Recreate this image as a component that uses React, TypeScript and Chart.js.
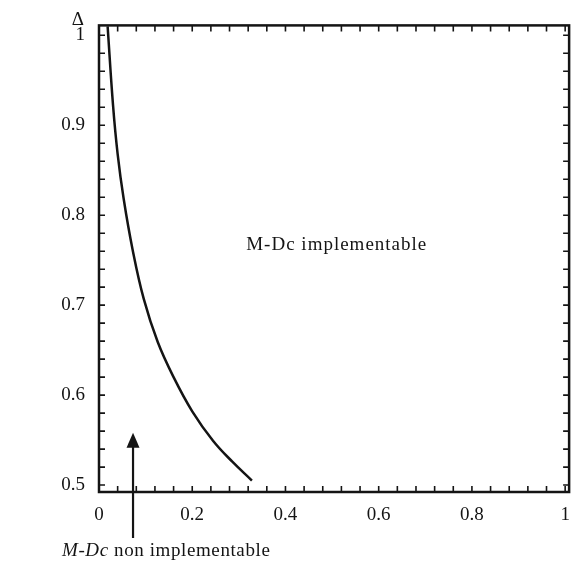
import { useEffect, useRef } from "react";
import { Chart, registerables } from "chart.js";

Chart.register(...registerables);

// Boundary curve
const curveX = [0.0185, 0.030, 0.040, 0.053, 0.072, 0.096, 0.126, 0.160, 0.200, 0.245, 0.286, 0.328];
const curveY = [1.010, 0.923, 0.868, 0.818, 0.762, 0.707, 0.659, 0.620, 0.582, 0.549, 0.526, 0.505];

const xTickLabels = [0, 0.2, 0.4, 0.6, 0.8, 1];
const yTickLabels = [0.5, 0.6, 0.7, 0.8, 0.9, 1];
const xMinorStep = 0.04;
const yMinorStep = 0.02;

const yAxisSymbol = "Δ";
const regionLabel = "M-Dc implementable";
const regionLabelPos = [0.51, 0.767];
const arrowLabelItalic = "M-Dc";
const arrowLabelRest = " non implementable";
const arrowX = 0.073;
const arrowTipY = 0.557;

const INK = "#141414";
const FONT = "'Liberation Serif', 'DejaVu Serif', serif";

const decorPlugin = {
  id: "decor",
  afterDraw(chart: any) {
    const { ctx, chartArea: a, scales } = chart;
    const xs = scales.x;
    const ys = scales.y;
    ctx.save();
    ctx.strokeStyle = INK;
    ctx.fillStyle = INK;

    // minor ticks, inside, on all four sides
    ctx.lineWidth = 1.6;
    const tl = 6;
    for (let k = 0; ; k++) {
      const v = k * xMinorStep;
      if (v > 1 + 1e-9) break;
      const px = xs.getPixelForValue(v);
      ctx.beginPath();
      ctx.moveTo(px, a.bottom);
      ctx.lineTo(px, a.bottom - tl);
      ctx.moveTo(px, a.top);
      ctx.lineTo(px, a.top + tl);
      ctx.stroke();
    }
    for (let k = 0; ; k++) {
      const v = 0.5 + k * yMinorStep;
      if (v > 1 + 1e-9) break;
      const py = ys.getPixelForValue(v);
      ctx.beginPath();
      ctx.moveTo(a.left, py);
      ctx.lineTo(a.left + tl, py);
      ctx.moveTo(a.right, py);
      ctx.lineTo(a.right - tl, py);
      ctx.stroke();
    }

    // frame
    ctx.lineWidth = 2.5;
    ctx.strokeRect(a.left, a.top, a.right - a.left, a.bottom - a.top);

    // axis symbol
    ctx.font = `19px ${FONT}`;
    ctx.textAlign = "right";
    ctx.textBaseline = "middle";
    ctx.fillText(yAxisSymbol, a.left - 15, a.top - 5);

    // region label
    ctx.textAlign = "center";
    (ctx as any).letterSpacing = "1px";
    ctx.fillText(
      regionLabel,
      xs.getPixelForValue(regionLabelPos[0]),
      ys.getPixelForValue(regionLabelPos[1])
    );

    // arrow
    const ax = xs.getPixelForValue(arrowX);
    const tip = ys.getPixelForValue(arrowTipY);
    const base = a.bottom + 46;
    ctx.lineWidth = 2.2;
    ctx.beginPath();
    ctx.moveTo(ax, base);
    ctx.lineTo(ax, tip + 12);
    ctx.stroke();
    ctx.beginPath();
    ctx.moveTo(ax, tip - 1);
    ctx.lineTo(ax - 6.5, tip + 14);
    ctx.lineTo(ax + 6.5, tip + 14);
    ctx.closePath();
    ctx.fill();

    // arrow label
    ctx.textAlign = "left";
    (ctx as any).letterSpacing = "0.6px";
    const ly = a.bottom + 59;
    let lx = a.left - 37;
    ctx.font = `italic 19px ${FONT}`;
    ctx.fillText(arrowLabelItalic, lx, ly);
    lx += ctx.measureText(arrowLabelItalic).width;
    ctx.font = `19px ${FONT}`;
    ctx.fillText(arrowLabelRest, lx, ly);
    ctx.restore();
  },
};

export default function App() {
  const ref = useRef<HTMLCanvasElement | null>(null);

  useEffect(() => {
    if (!ref.current) return;
    const data = curveX.map((x, i) => ({ x, y: curveY[i] }));
    const tickFont = { family: FONT, size: 19 };
    const chart = new Chart(ref.current, {
      type: "scatter",
      data: {
        datasets: [
          {
            data,
            showLine: true,
            borderColor: INK,
            borderWidth: 2.5,
            pointRadius: 0,
            tension: 0.4,
            fill: false,
          } as any,
        ],
      },
      options: {
        animation: false,
        responsive: true,
        maintainAspectRatio: false,
        layout: { padding: { top: 20, right: 11, left: 0, bottom: 0 } },
        plugins: {
          legend: { display: false },
          tooltip: { enabled: false },
        },
        scales: {
          x: {
            type: "linear",
            min: 0,
            max: 1.0085,
            grid: { display: false, drawTicks: false },
            border: { display: false },
            afterBuildTicks: (s: any) => {
              s.ticks = xTickLabels.map((v) => ({ value: v }));
            },
            afterFit: (s: any) => {
              s.height = 73;
            },
            ticks: {
              padding: 12,
              color: INK,
              font: tickFont,
              autoSkip: false,
              maxRotation: 0,
              callback: (v: any) => String(v),
            },
          },
          y: {
            type: "linear",
            min: 0.4923,
            max: 1.011,
            grid: { display: false, drawTicks: false },
            border: { display: false },
            afterBuildTicks: (s: any) => {
              s.ticks = yTickLabels.map((v) => ({ value: v }));
            },
            afterFit: (s: any) => {
              s.width = 99;
            },
            ticks: {
              padding: 14,
              color: INK,
              font: tickFont,
              autoSkip: false,
              callback: (v: any) => String(v),
            },
          },
        },
      },
      plugins: [decorPlugin],
    });
    return () => chart.destroy();
  }, []);

  return (
    <div
      style={{
        position: "fixed",
        left: 0,
        top: 0,
        width: 582,
        height: 565,
        background: "#fff",
      }}
    >
      <canvas ref={ref} />
    </div>
  );
}
